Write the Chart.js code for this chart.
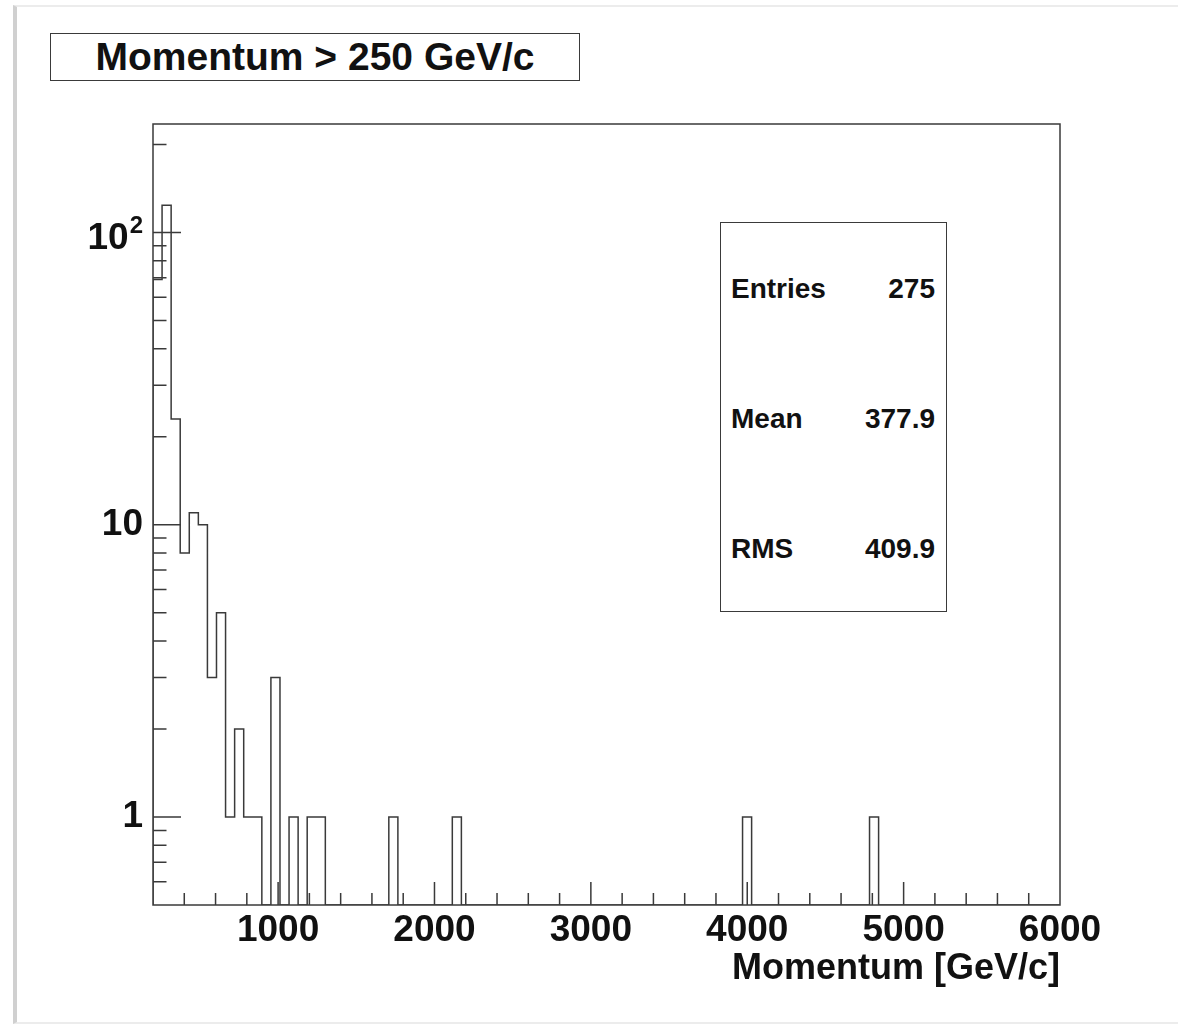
<!DOCTYPE html>
<html><head><meta charset="utf-8">
<script src="https://cdn.jsdelivr.net/npm/chart.js@4.4.1/dist/chart.umd.min.js"></script>
<style>
html,body{margin:0;padding:0;background:#fff;}
body{width:1178px;height:1026px;position:relative;overflow:hidden;font-family:'Liberation Sans',Arial,Helvetica,sans-serif;}
#frame{position:absolute;left:13px;top:5px;width:1170px;height:1019px;border-top:2px solid #ececec;border-left:4px solid #d0d0d0;border-bottom:2px solid #ececec;box-sizing:border-box;}
#c{position:absolute;left:0;top:0;}
#title{position:absolute;left:50px;top:33px;width:530px;height:48px;box-sizing:border-box;border:1.5px solid #3a3a3a;text-align:center;font-weight:bold;font-size:39px;line-height:45px;color:#111;background:#fff;}
#stats{position:absolute;left:720px;top:222px;width:227px;height:390px;box-sizing:border-box;border:1.5px solid #3a3a3a;background:#fff;color:#111;font-weight:bold;font-size:28px;}
#stats .row{position:absolute;left:10px;right:11px;height:34px;line-height:34px;}
#stats .k{position:absolute;left:0;}
#stats .v{position:absolute;right:0;}
</style>
</head><body>
<div id="frame"></div>
<canvas id="c" width="1178" height="1026"></canvas>
<div id="title">Momentum &gt; 250 GeV/c</div>
<div id="stats">
  <div class="row" style="top:49px"><span class="k">Entries</span><span class="v">275</span></div>
  <div class="row" style="top:179px"><span class="k">Mean</span><span class="v">377.9</span></div>
  <div class="row" style="top:309px"><span class="k">RMS</span><span class="v">409.9</span></div>
</div>
<script>
// ---- data ----
const xMin = 200;
const xMax = 6000;
const binWidth = 58; // 100 bins
const counts = [
  69, 124, 23, 8, 11, 10, 3, 5, 1, 2,
  1, 1, 0, 3, 0, 1, 0, 1, 1, 0,
  0, 0, 0, 0, 0, 0, 1, 0, 0, 0,
  0, 0, 0, 1, 0, 0, 0, 0, 0, 0,
  0, 0, 0, 0, 0, 0, 0, 0, 0, 0,
  0, 0, 0, 0, 0, 0, 0, 0, 0, 0,
  0, 0, 0, 0, 0, 1, 0, 0, 0, 0,
  0, 0, 0, 0, 0, 0, 0, 0, 0, 1,
  0, 0, 0, 0, 0, 0, 0, 0, 0, 0,
  0, 0, 0, 0, 0, 0, 0, 0, 0, 0
];
const yMin = 0.5;
const yMax = 235;
const xTickValues = [1000, 2000, 3000, 4000, 5000, 6000];
const xTickLabels = ['1000', '2000', '3000', '4000', '5000', '6000'];
const yTickValues = [1, 10, 100];
const yTickLabels = ['1', '10', '10^2'];
const xTitle = 'Momentum [GeV/c]';

// ---- histogram outline points (bin low edges, empty bins drop to the axis floor) ----
const pts = counts.map((c, i) => ({x: xMin + i * binWidth, y: c > 0 ? c : yMin}));
pts.unshift({x: xMin, y: yMin});
pts.push({x: xMax, y: yMin});

const LINE = '#3a3a3a';
const FONT = "'Liberation Sans', Arial, Helvetica, sans-serif";

const rootAxes = {
  id: 'rootAxes',
  afterDatasetsDraw(chart) {
    const {ctx, chartArea: a, scales: {x, y}} = chart;
    ctx.save();
    ctx.strokeStyle = LINE;
    ctx.lineWidth = 1.5;
    ctx.beginPath();
    for (let v = xMin + 200; v < xMax; v += 200) {
      const px = x.getPixelForValue(v);
      const len = (v % 1000 === 0) ? 23 : 12;
      ctx.moveTo(px, a.bottom);
      ctx.lineTo(px, a.bottom - len);
    }
    for (let e = -1; e <= 2; e++) {
      for (let m = 1; m <= 9; m++) {
        const v = m * Math.pow(10, e);
        if (v <= yMin || v > yMax) continue;
        const py = y.getPixelForValue(v);
        const len = (m === 1) ? 28 : 13.5;
        ctx.moveTo(a.left, py);
        ctx.lineTo(a.left + len, py);
      }
    }
    ctx.stroke();
    ctx.strokeRect(a.left, a.top, a.right - a.left, a.bottom - a.top);

    // labels with an exponent (e.g. 10^2) drawn with a raised, smaller exponent
    ctx.fillStyle = '#111';
    yTickValues.forEach((v, i) => {
      const lab = yTickLabels[i];
      if (lab.indexOf('^') < 0) return;
      const [base, exp] = lab.split('^');
      const py = y.getPixelForValue(v);
      ctx.font = "bold 24px " + FONT;
      ctx.textAlign = 'right';
      ctx.textBaseline = 'alphabetic';
      const ew = ctx.measureText(exp).width;
      const xr = a.left - 10;
      ctx.fillText(exp, xr, py + 1);
      ctx.font = "bold 37px " + FONT;
      ctx.fillText(base, xr - ew - 1, py + 17);
    });
    ctx.restore();
  }
};

new Chart(document.getElementById('c'), {
  type: 'line',
  data: {
    datasets: [{
      data: pts,
      stepped: 'before',
      borderColor: LINE,
      borderWidth: 1.5,
      pointRadius: 0,
      fill: false,
      tension: 0
    }]
  },
  options: {
    responsive: false,
    animation: false,
    devicePixelRatio: 1,
    layout: {padding: {left: 0, top: 124, right: 118, bottom: 0}},
    plugins: {legend: {display: false}, tooltip: {enabled: false}, title: {display: false}},
    scales: {
      x: {
        type: 'linear',
        min: xMin,
        max: xMax,
        grid: {display: false, drawTicks: false},
        border: {display: false},
        afterBuildTicks: (s) => { s.ticks = xTickValues.map(v => ({value: v})); },
        afterFit: (s) => { s.height = 121; },
        ticks: {
          padding: 4,
          maxRotation: 0,
          autoSkip: false,
          color: '#111',
          font: {family: FONT, size: 37, weight: 'bold', lineHeight: 1.2},
          callback: (v) => { const i = xTickValues.indexOf(v); return i >= 0 ? xTickLabels[i] : ''; }
        },
        title: {
          display: true,
          text: xTitle,
          align: 'end',
          color: '#111',
          font: {family: FONT, size: 36, weight: 'bold', lineHeight: 1.2},
          padding: {top: 0, bottom: 35}
        }
      },
      y: {
        type: 'logarithmic',
        min: yMin,
        max: yMax,
        grid: {display: false, drawTicks: false},
        border: {display: false},
        afterBuildTicks: (s) => { s.ticks = yTickValues.map(v => ({value: v})); },
        afterFit: (s) => { s.width = 153; },
        ticks: {
          padding: 10,
          autoSkip: false,
          color: '#111',
          font: {family: FONT, size: 37, weight: 'bold', lineHeight: 1.2},
          callback: (v) => {
            const i = yTickValues.indexOf(v);
            if (i < 0) return '';
            const lab = yTickLabels[i];
            return lab.indexOf('^') >= 0 ? '' : lab;
          }
        }
      }
    }
  },
  plugins: [rootAxes]
});
</script>
</body></html>
